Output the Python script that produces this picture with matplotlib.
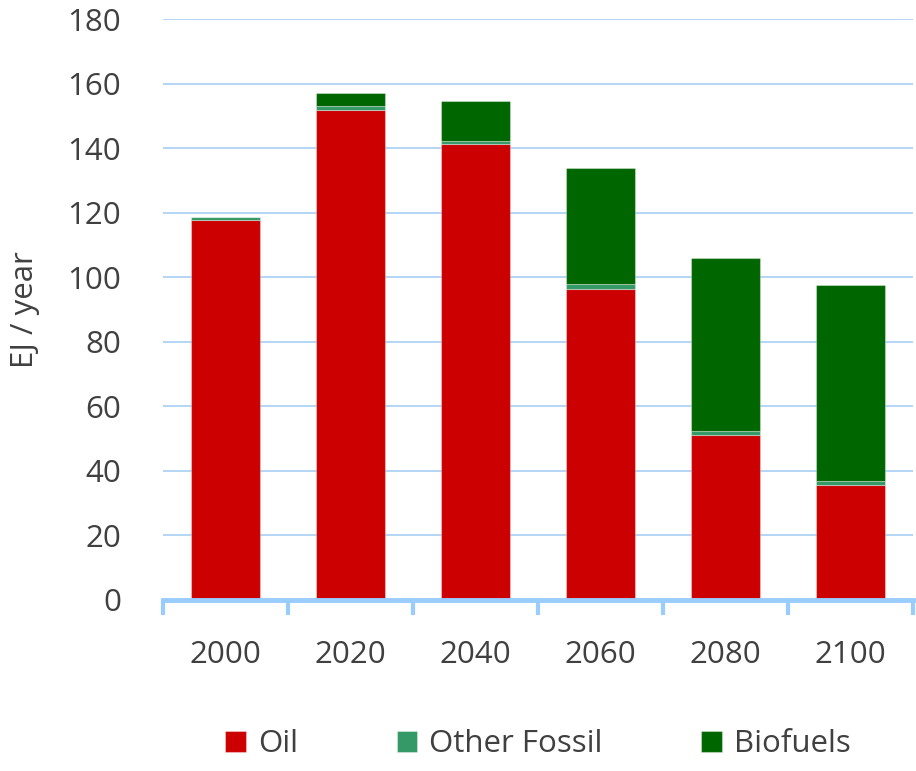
import numpy as np
import matplotlib.pyplot as plt
from matplotlib.ticker import FixedLocator

plt.rcParams['font.family'] = ['Open Sans', 'DejaVu Sans']

# data (EJ / year)
years = ['2000', '2020', '2040', '2060', '2080', '2100']
oil = [117.8, 151.8, 141.3, 96.4, 51.1, 35.5]
other_fossil = [0.8, 1.4, 1.1, 1.4, 1.2, 1.3]
biofuels = [0.2, 4.0, 12.4, 36.1, 53.8, 60.9]

colors = {'Oil': '#CC0000', 'Other Fossil': '#339966', 'Biofuels': '#006600'}
txt = '#404040'

fig = plt.figure(figsize=(9.16, 7.71), dpi=100)
ax = fig.add_axes([0.178, 0.222, 0.819, 0.753])

x = np.arange(len(years))
w = 0.55
bottom = np.zeros(len(years))
for name, vals in [('Oil', oil), ('Other Fossil', other_fossil), ('Biofuels', biofuels)]:
    ax.bar(x, vals, w, bottom=bottom, color=colors[name], label=name,
           edgecolor=(1, 1, 1, 0.35), linewidth=0.8, zorder=3)
    bottom += np.array(vals)

ax.set_xlim(-0.5, len(years) - 0.5)
ax.set_ylim(0, 180)
ax.set_yticks(np.arange(0, 181, 20))
ax.grid(axis='y', color='#AED2F5', linewidth=1.3, zorder=0)
ax.set_axisbelow(True)

for s in ['left', 'right', 'top']:
    ax.spines[s].set_visible(False)
ax.spines['bottom'].set_color('#99CCFF')
ax.spines['bottom'].set_linewidth(3.5)
ax.spines['bottom'].set_zorder(4)

ax.set_xticks(x)
ax.set_xticklabels(years)
ax.xaxis.set_minor_locator(FixedLocator(np.arange(-0.5, len(years), 1.0)))
ax.tick_params(axis='x', which='major', length=0, pad=29, labelsize=22.5, labelcolor=txt)
ax.tick_params(axis='x', which='minor', length=11, width=3, color='#99CCFF', direction='out')
ax.tick_params(axis='y', length=0, pad=30, labelsize=22.5, labelcolor=txt)

ax.set_ylabel('EJ / year', fontsize=22.5, color=txt, labelpad=20)

ax.legend(loc='upper center', bbox_to_anchor=(0.5, -0.185), ncol=3, frameon=False,
          fontsize=22.5, labelcolor=txt, handlelength=0.65, handleheight=0.65,
          handletextpad=0.4, columnspacing=3.15, borderpad=0.2)

fig.savefig('out.png', dpi=100)
